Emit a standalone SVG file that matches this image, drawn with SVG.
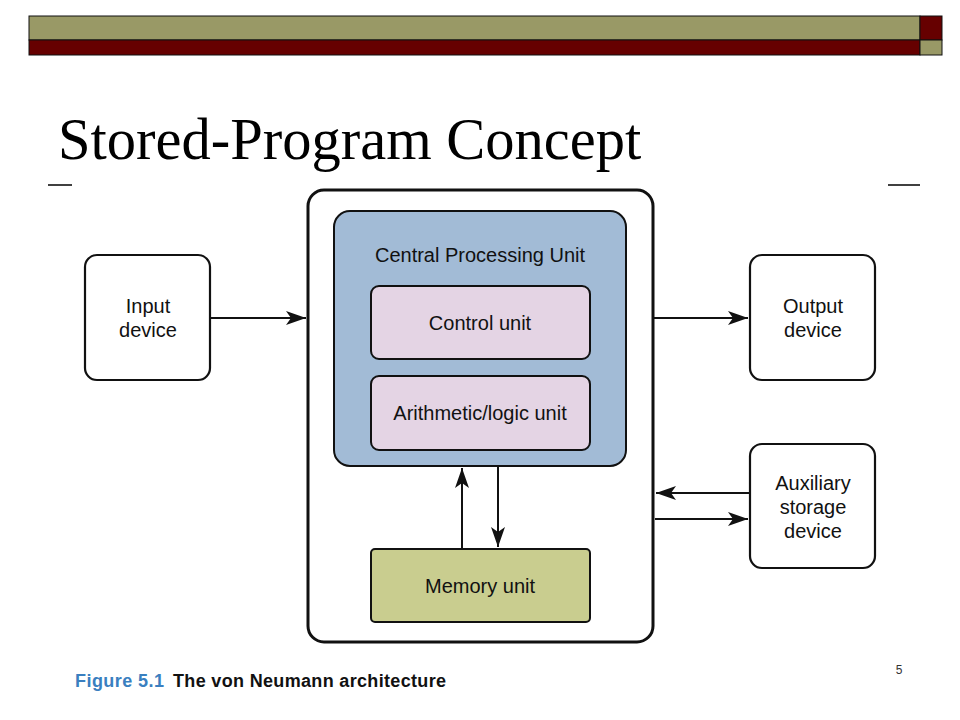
<svg xmlns="http://www.w3.org/2000/svg" width="960" height="720" viewBox="0 0 960 720">
<style>
.box{fill:#fff;stroke:#111;stroke-width:2.2}
.lbl{font-family:"Liberation Sans",Arial,sans-serif;font-size:20px;fill:#111;text-anchor:middle}
.conn{stroke:#111;stroke-width:2;fill:none}
</style>
<defs>
<marker id="ah" viewBox="0 0 20 14" refX="20" refY="7" markerWidth="20" markerHeight="14" markerUnits="userSpaceOnUse" orient="auto">
<path d="M0,0 L20,7 L0,14 L5,7 z" fill="#111"/>
</marker>
</defs>
<rect width="960" height="720" fill="#fff"/>
<g id="banner">
<rect x="29" y="16" width="891" height="24" fill="#999966" stroke="#111" stroke-width="1"/>
<rect x="29" y="40" width="891" height="15" fill="#660000" stroke="#111" stroke-width="1"/>
<rect x="920" y="16" width="22" height="24" fill="#660000" stroke="#111" stroke-width="1"/>
<rect x="920" y="40" width="22" height="15" fill="#999966" stroke="#111" stroke-width="1"/>
</g>
<text x="58" y="159" font-family="'Liberation Serif','Times New Roman',serif" font-size="58.5" fill="#000">Stored-Program Concept</text>
<line x1="48" y1="185" x2="72" y2="185" stroke="#000" stroke-width="1.5"/>
<line x1="888" y1="185" x2="920" y2="185" stroke="#000" stroke-width="1.5"/>
<g id="computer">
<rect x="308" y="190" width="345" height="452" rx="16" fill="#fff" stroke="#111" stroke-width="3"/>
</g>
<g id="cpu">
<rect x="334" y="211" width="292" height="255" rx="16" fill="#a2bbd6" stroke="#111" stroke-width="2"/>
<text class="lbl" x="480" y="262">Central Processing Unit</text>
</g>
<g id="control">
<rect x="371" y="286" width="219" height="73" rx="8" fill="#e4d4e4" stroke="#111" stroke-width="2"/>
<text class="lbl" x="480" y="330">Control unit</text>
</g>
<g id="alu">
<rect x="371" y="376" width="219" height="74" rx="8" fill="#e4d4e4" stroke="#111" stroke-width="2"/>
<text class="lbl" x="480" y="420">Arithmetic/logic unit</text>
</g>
<g id="memory">
<rect x="371" y="549" width="219" height="73" rx="4" fill="#c9cd8f" stroke="#111" stroke-width="2"/>
<text class="lbl" x="480" y="593">Memory unit</text>
</g>
<g id="input">
<rect class="box" x="85" y="255" width="125" height="125" rx="12"/>
<text class="lbl" x="148" y="313">Input</text>
<text class="lbl" x="148" y="337">device</text>
</g>
<g id="output">
<rect class="box" x="750" y="255" width="125" height="125" rx="12"/>
<text class="lbl" x="813" y="313">Output</text>
<text class="lbl" x="813" y="337">device</text>
</g>
<g id="aux">
<rect class="box" x="750" y="444" width="125" height="124" rx="12"/>
<text class="lbl" x="813" y="490">Auxiliary</text>
<text class="lbl" x="813" y="514">storage</text>
<text class="lbl" x="813" y="538">device</text>
</g>
<g id="connectors">
<line class="conn" x1="210" y1="318" x2="306" y2="318" marker-end="url(#ah)"/>
<line class="conn" x1="654" y1="318" x2="748" y2="318" marker-end="url(#ah)"/>
<line class="conn" x1="750" y1="493" x2="656" y2="493" marker-end="url(#ah)"/>
<line class="conn" x1="655" y1="519" x2="748" y2="519" marker-end="url(#ah)"/>
<line class="conn" x1="462" y1="549" x2="462" y2="468" marker-end="url(#ah)"/>
<line class="conn" x1="498" y1="466" x2="498" y2="547" marker-end="url(#ah)"/>
</g>
<text x="75" y="687" font-family="'Liberation Sans',Arial,sans-serif" font-size="18" font-weight="bold" fill="#3a7fc0" textLength="89">Figure 5.1</text>
<text x="173" y="687" font-family="'Liberation Sans',Arial,sans-serif" font-size="18" font-weight="bold" fill="#111" textLength="273">The von Neumann architecture</text>
<text x="899" y="674" font-family="'Liberation Sans',Arial,sans-serif" font-size="12" fill="#333" text-anchor="middle">5</text>
</svg>
